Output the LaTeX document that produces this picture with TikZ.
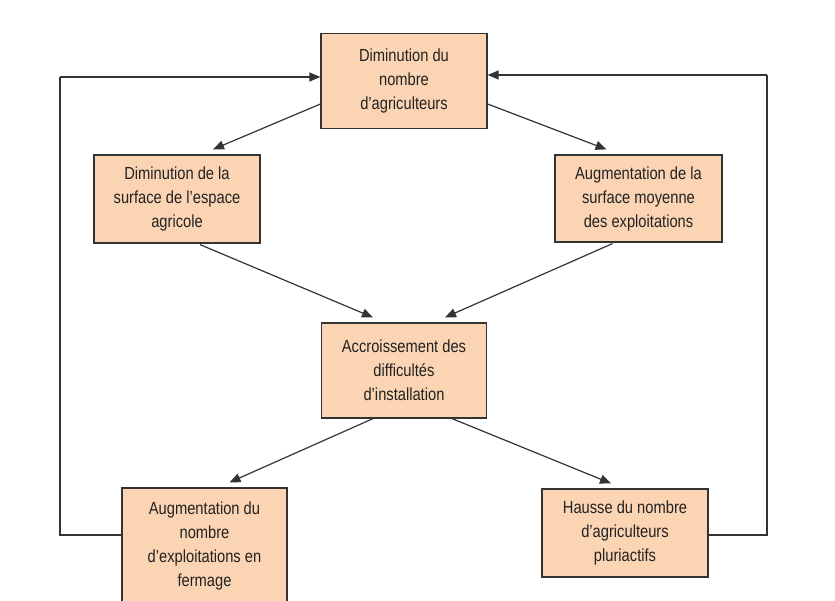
\documentclass[tikz,border=0pt]{standalone}
\usepackage{fontspec}
\setmainfont{Liberation Sans}[FakeStretch=0.84]
\usetikzlibrary{arrows.meta,calc}
\definecolor{boxfill}{HTML}{FBD4B4}
\definecolor{ink}{HTML}{333333}
\definecolor{txt}{HTML}{222222}
\begin{document}
\begin{tikzpicture}[x=1pt,y=-1pt,
  box/.style={draw=ink, fill=boxfill, line width=1.2pt, align=center,
    font=\fontsize{17.5}{24}\selectfont, text=txt, inner sep=0pt},
  conn/.style={draw=ink, line width=1.2pt, -{Triangle[length=11pt,width=9pt]}},
  link/.style={draw=ink, line width=1.2pt}]
\useasboundingbox (0,0) rectangle (835,601);
\clip (0,0) rectangle (835,601);
\node[box, minimum width=166pt, minimum height=95pt] (top) at (404,81)
  {Diminution du\\nombre\\d’agriculteurs\vphantom{g}};
\node[box, minimum width=166pt, minimum height=88pt] (lm) at (177,199)
  {Diminution de la\\surface de l’espace\\agricole};
\node[box, minimum width=167pt, minimum height=87pt] (rm) at (638.5,198.5)
  {Augmentation de la\\surface moyenne\\des exploitations};
\node[box, minimum width=165pt, minimum height=95pt] (mid) at (404,370.5)
  {Accroissement des\\difficultés\\d’installation};
\node[box, minimum width=165pt, minimum height=116pt] (bl) at (204.5,546)
  {Augmentation du\\nombre\\d’exploitations en\\fermage};
\node[box, minimum width=166pt, minimum height=88pt] (br) at (625,533)
  {Hausse du nombre\\d’agriculteurs\\pluriactifs};
% diagonal arrows
\draw[conn] ($(top.west)+(0,23)$) -- ($(lm.north)+(36,-5)$);
\draw[conn] ($(top.east)+(0,23)$) -- ($(rm.north)+(-32,-5)$);
\draw[conn] ($(lm.south)+(23,1)$) -- ($(mid.north)+(-31,-5)$);
\draw[conn] ($(rm.south)+(-26,1)$) -- ($(mid.north)+(41,-5)$);
\draw[conn] ($(mid.south)+(-31,0)$) -- ($(bl.north)+(25,-5)$);
\draw[conn] ($(mid.south)+(48,0)$) -- ($(br.north)+(-14,-5)$);
% feedback loops
\coordinate (lc1) at (60,535);
\coordinate (lc2) at (60,77);
\coordinate (rc1) at (767,535);
\coordinate (rc2) at (767,75);
\draw[link] (bl.west |- lc1) -- (lc1) -- (lc2);
\draw[conn] (lc2) -- (lc2 -| top.west);
\draw[link] (br.east |- rc1) -- (rc1) -- (rc2);
\draw[conn] (rc2) -- (rc2 -| top.east);
\end{tikzpicture}
\end{document}
